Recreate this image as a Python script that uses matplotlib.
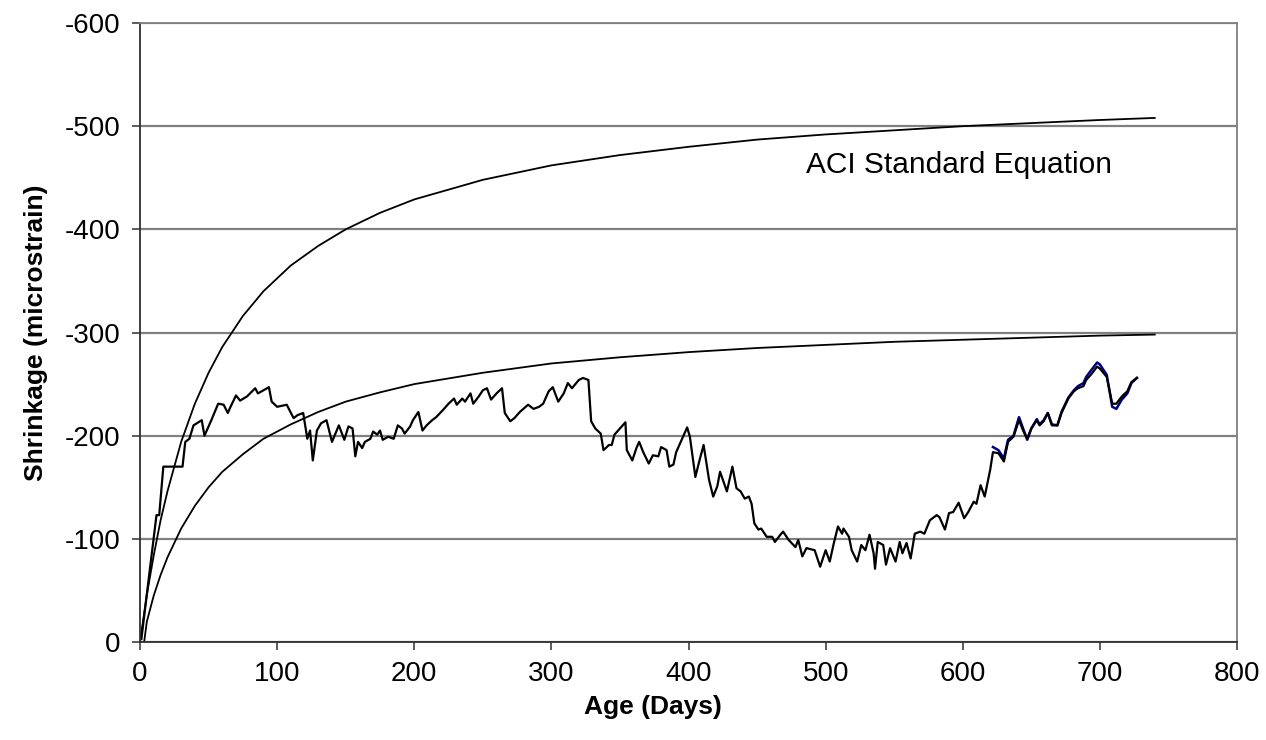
import numpy as np
import matplotlib
matplotlib.use('Agg')
import matplotlib.pyplot as plt

plt.rcParams['font.family'] = ['Liberation Sans', 'DejaVu Sans']
plt.rcParams['axes.unicode_minus'] = False

# measured shrinkage (days, microstrain)
meas_days = [1, 12, 14, 17, 31, 33, 36, 39, 45, 47, 52, 57, 61, 64, 66, 70, 73, 78, 84, 86,
             94, 96, 100, 107, 112, 115, 119, 122, 124, 126, 129, 132, 136, 140, 145, 149, 152, 155, 157, 159,
             162, 164, 168, 170, 173, 175, 177, 181, 185, 188, 191, 193, 197, 199, 203, 206, 209, 213, 216, 221,
             225, 229, 231, 235, 237, 241, 243, 247, 250, 253, 256, 260, 264, 266, 270, 273, 277, 283, 287, 291,
             294, 298, 301, 305, 309, 312, 315, 320, 323, 327, 329, 332, 336, 338, 342, 344, 346, 350, 354, 355,
             359, 362, 364, 367, 371, 374, 378, 380, 384, 386, 389, 391, 395, 399, 401, 405, 408, 411, 415, 418,
             421, 423, 428, 432, 435, 438, 441, 444, 446, 448, 451, 453, 457, 461, 463, 467, 469, 473, 478, 480,
             483, 486, 492, 496, 500, 503, 506, 509, 512, 513, 517, 519, 523, 526, 529, 532, 535, 536, 538, 542,
             544, 547, 551, 554, 556, 559, 562, 565, 569, 572, 576, 581, 583, 587, 590, 593, 597, 601, 604, 608,
             610, 613, 616, 620, 622, 626, 630, 633, 637, 641, 644, 647, 650, 654, 656, 659, 662, 665, 669, 672,
             677, 681, 684, 688, 690, 694, 698, 700, 705, 709, 712, 716, 720, 723, 727]
meas_vals = [-3, -123, -123, -170, -170, -194, -197, -210, -215, -200, -215, -231, -230, -222, -228, -239, -234, -238, -246, -241,
             -247, -233, -228, -230, -217, -220, -222, -197, -205, -176, -205, -212, -215, -194, -210, -196, -209, -207, -180, -194,
             -188, -194, -197, -204, -201, -205, -196, -199, -197, -210, -207, -202, -209, -215, -223, -205, -210, -215, -218, -225,
             -231, -236, -230, -236, -233, -241, -231, -238, -244, -246, -235, -241, -246, -222, -214, -217, -223, -230, -226, -228,
             -231, -243, -247, -233, -241, -251, -246, -254, -256, -254, -214, -207, -202, -186, -191, -191, -201, -207, -213, -186,
             -176, -188, -194, -184, -173, -181, -180, -189, -186, -170, -172, -184, -196, -208, -199, -160, -176, -191, -157, -141,
             -151, -165, -146, -170, -149, -146, -139, -141, -134, -115, -109, -110, -102, -102, -97, -104, -107, -99, -92, -99,
             -83, -91, -89, -73, -89, -78, -96, -112, -105, -110, -102, -89, -78, -94, -89, -104, -86, -71, -97, -94,
             -75, -91, -78, -97, -86, -96, -81, -105, -107, -105, -118, -123, -121, -109, -125, -126, -135, -120, -126, -136,
             -134, -152, -141, -167, -184, -183, -175, -194, -199, -215, -205, -197, -207, -215, -210, -214, -222, -210, -210, -222,
             -236, -243, -246, -248, -254, -260, -267, -265, -257, -231, -231, -238, -243, -252, -256]

# second measured series (blue), late readings only
blue_days = [622, 626, 630, 633, 637, 641, 644, 647, 650, 654, 656, 659, 662, 665, 669, 672,
             677, 681, 684, 688, 690, 694, 698, 700, 705, 709, 712, 716, 720, 723, 727]
blue_vals = [-189, -186, -178, -196, -200, -218, -207, -196, -207, -216, -211, -215, -222, -211, -210, -223,
             -237, -244, -248, -251, -257, -264, -271, -269, -259, -228, -226, -235, -241, -251, -256]

# ACI standard equation curve
aci_days = [0, 5, 10, 15, 20, 30, 40, 50, 60, 75, 90, 110, 130, 150, 175, 200,
            250, 300, 350, 400, 450, 500, 550, 600, 650, 700, 740]
aci_vals = [0, -46, -84, -118, -146, -194, -231, -261, -286, -316, -340, -365, -384, -400, -416, -429,
            -448, -462, -472, -480, -487, -492, -496, -500, -503, -506, -508]

# lower predicted curve
low_days = [3, 5, 10, 15, 20, 30, 40, 50, 60, 75, 90, 110, 130, 150, 175, 200,
            250, 300, 350, 400, 450, 500, 550, 600, 650, 700, 740]
low_vals = [0, -20, -45, -65, -82, -110, -132, -150, -165, -182, -197, -211, -223, -233, -242, -250,
            -261, -270, -276, -281, -285, -288, -291, -293, -295, -297, -298]

fig = plt.figure(figsize=(12.66, 7.4), dpi=100)
ax = fig.add_axes([0.1106, 0.1324, 0.8665, 0.8365])

ax.plot(aci_days, aci_vals, color='black', lw=1.3)
ax.plot(low_days, low_vals, color='black', lw=1.3)
ax.plot(blue_days, blue_vals, color='#000080', lw=1.8)
ax.plot(meas_days, meas_vals, color='black', lw=1.6)

ax.text(486, -462, 'ACI Standard Equation', fontsize=21.5, va='center', ha='left')

ax.set_xlim(0, 800)
ax.set_ylim(0, -600)
ax.set_xticks(np.arange(0, 801, 100))
ax.set_yticks(np.arange(0, -601, -100))
ax.yaxis.grid(True, color='#808080', lw=1.6)
ax.set_axisbelow(True)

for s in ['top', 'right']:
    ax.spines[s].set_color('#808080')
    ax.spines[s].set_linewidth(1.3)
for s in ['left', 'bottom']:
    ax.spines[s].set_color('#303030')
    ax.spines[s].set_linewidth(1.3)

ax.tick_params(axis='both', direction='out', length=6, width=1.1, color='#303030',
               labelsize=20, pad=8)

ax.set_xlabel('Age (Days)', fontsize=19, fontweight='bold')
ax.xaxis.set_label_coords(0.468, -0.085)
ax.set_ylabel('Shrinkage (microstrain)', fontsize=19, fontweight='bold', labelpad=12)

fig.savefig('out.png', dpi=100)
